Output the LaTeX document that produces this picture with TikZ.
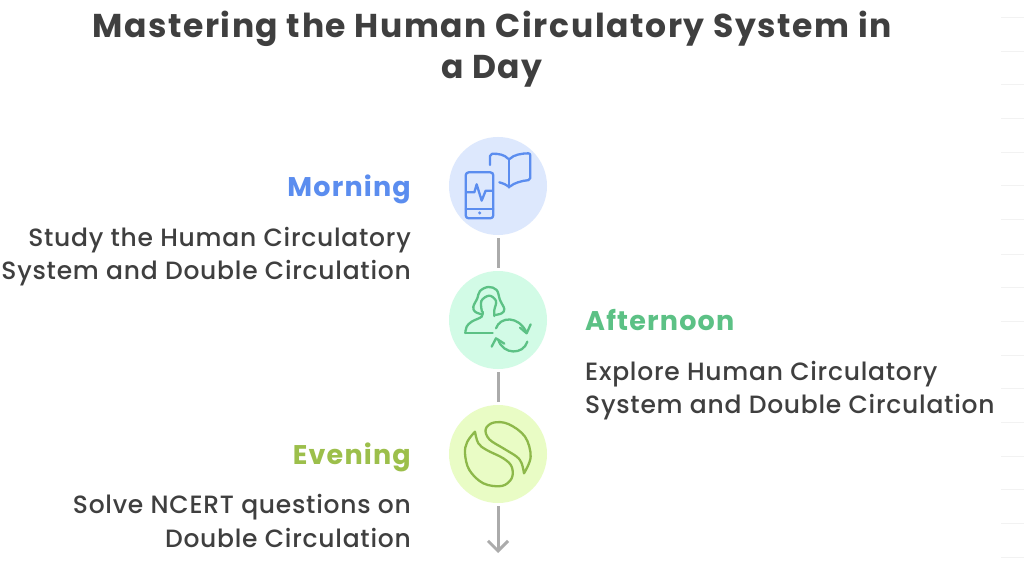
\documentclass[tikz,border=0pt]{standalone}
\usepackage{fontspec}
\usetikzlibrary{arrows.meta}
\setmainfont{Poppins}
\newfontfamily\titlefam[LetterSpace=4.9]{Poppins}
\newfontfamily\headfam[LetterSpace=4.4]{Poppins}
\newfontfamily\bodyfam[LetterSpace=3,UprightFont=* Medium]{Poppins}
\definecolor{ink}{HTML}{3F3F3F}
\definecolor{conn}{HTML}{ABABAB}
\definecolor{blueT}{HTML}{5B8DEF}
\definecolor{blueF}{HTML}{DDE8FD}
\definecolor{greenT}{HTML}{5CC185}
\definecolor{greenF}{HTML}{D2FBE6}
\definecolor{limeT}{HTML}{9CBF4B}
\definecolor{limeF}{HTML}{E9FCC5}
\definecolor{limeI}{HTML}{8DB84A}
\definecolor{faint}{HTML}{F2F2F2}
\tikzset{
  disc/.style={circle,draw=none,minimum size=98pt,inner sep=0pt},
  titletext/.style={text=ink,font=\titlefam\fontsize{33}{41}\selectfont\bfseries,align=center,anchor=center,inner sep=0pt},
  headR/.style={font=\headfam\fontsize{27}{30}\selectfont\bfseries,anchor=east,inner sep=0pt},
  headL/.style={font=\headfam\fontsize{27}{30}\selectfont\bfseries,anchor=west,inner sep=0pt},
  bodyR/.style={text=ink,font=\bodyfam\fontsize{25}{33.5}\selectfont,align=right,anchor=east,inner sep=0pt},
  bodyL/.style={text=ink,font=\bodyfam\fontsize{25}{33.5}\selectfont,align=left,anchor=west,inner sep=0pt},
  link/.style={draw=conn,line width=3pt,shorten >=3pt,shorten <=3pt},
  lead/.style={link,shorten >=0pt,line join=round,arrows={-Straight Barb[length=10pt,width=20pt,line width=3pt]}},
  iconpen/.style={line width=2.3pt,line cap=round,line join=round},
  hair/.style={draw=faint,line width=1pt}
}
\begin{document}
\begin{tikzpicture}[x=1pt,y=-1pt]
\useasboundingbox[fill=white] (0,0) rectangle (1024,585);
\foreach \k in {18,52,85,119,153,186,220,254,287,321,355,388,422,456,489,523,557}
  \draw[hair] (1001,\k) -- (1024,\k);
\node[titletext] (title) at (492,49) {Mastering the Human Circulatory System in\\a Day};
\node[disc,fill=blueF] (morning) at (498,186) {};
\node[disc,fill=greenF] (afternoon) at (498,320) {};
\node[disc,fill=limeF] (evening) at (498,454) {};
\coordinate (end) at (498,553);
\draw[link] (morning) -- (afternoon);
\draw[link] (afternoon) -- (evening);
\draw[lead] (evening) -- (end);
\node[headR,text=blueT] (h1) at (411,189) {Morning};
\node[bodyR] (b1) at (411,256.5) {Study the Human Circulatory\\System and Double Circulation};
\node[headL,text=greenT] (h2) at (585,320) {Afternoon};
\node[bodyL] (b2) at (585,390.5) {Explore Human Circulatory\\System and Double Circulation};
\node[headR,text=limeT] (h3) at (411,457) {Evening};
\node[bodyR] (b3) at (411,521) {Solve NCERT questions on\\Double Circulation};
% phone and book
\begin{scope}[shift={(440,130)},x=0.3333pt,y=-0.3333pt,iconpen,draw=blueT]
\draw[rounded corners=3pt,draw=blueT] (77,127) rectangle (160,265);
\draw[draw=blueT] (77,238) -- (160,238);
\draw[draw=blueT] (80,187) -- (103,187) -- (110,163) -- (125,212) -- (137,182) -- (158,182);
\fill[blueT] (119,249) circle (5);
\draw[draw=blueT,rounded corners=2pt] (150,105) -- (150,72) .. controls (175,70) and (195,75) .. (207,90) .. controls (220,75) and (245,70) .. (271,70) -- (271,150) .. controls (245,152) and (220,160) .. (207,173) .. controls (200,165) and (190,160) .. (178,157);
\draw[draw=blueT] (207,90) -- (207,173);
\end{scope}
% woman and cycle
\begin{scope}[shift={(440,265)},x=0.3333pt,y=-0.3333pt,iconpen]
\draw[draw=greenT] plot[smooth,tension=0.6] coordinates {(125,148) (105,140) (100,125) (112,100) (120,78) (145,66) (170,75) (180,105) (193,132) (185,145) (165,150)};
\draw[draw=greenT] plot[smooth,tension=0.6] coordinates {(126,140) (124,108) (148,92) (168,108) (163,135) (163,153)};
\draw[draw=greenT] plot[smooth,tension=0.6] coordinates {(128,140) (125,155) (95,170) (80,185) (76,204)};
\draw[draw=greenT] (76,204) -- (158,204);
\draw[draw=greenT] (168,190) .. controls (180,155) and (235,150) .. (260,203);
\draw[draw=greenT] (262,230) .. controls (250,270) and (190,270) .. (175,225);
\draw[draw=greenT] (240,188) -- (260,205) -- (272,178);
\draw[draw=greenT] (155,245) -- (168,220) -- (193,236);
\end{scope}
% swirl
\begin{scope}[shift={(440,400)},x=0.3333pt,y=-0.3333pt,iconpen]
\draw[draw=limeI] plot[smooth,tension=0.6] coordinates {(105,95) (82,125) (75,160) (88,210) (130,250) (185,258) (215,235) (215,200) (190,175) (140,150) (115,130) (105,95)};
\draw[draw=limeI] plot[smooth,tension=0.6] coordinates {(252,220) (272,170) (255,110) (205,72) (160,68) (137,88) (148,118) (190,145) (230,170) (245,190) (252,220)};
\end{scope}
\end{tikzpicture}
\end{document}
